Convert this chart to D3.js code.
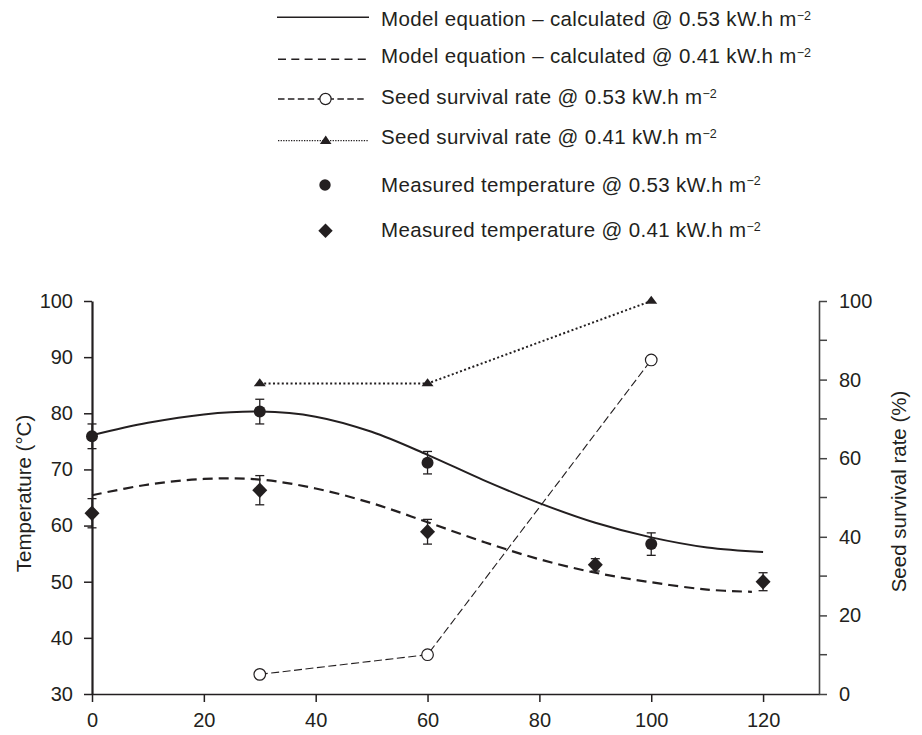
<!DOCTYPE html>
<html>
<head>
<meta charset="utf-8">
<script src="https://cdn.jsdelivr.net/npm/d3@7"></script>
<style>
  body { margin: 0; background: #fff; }
  text { font-family: "Liberation Sans", Arial, sans-serif; fill: #231f20; }
</style>
</head>
<body>
<script>
// model curves
const modelX53 = [0, 10, 20, 30, 40, 50, 60, 70, 80, 90, 100, 110, 120];
const model53 = [76.1, 78.3, 79.8, 80.3, 79.4, 76.7, 72.6, 68.1, 64.0, 60.5, 57.9, 56.1, 55.3];
const modelX41 = [0, 10, 20, 30, 40, 50, 60, 70, 80, 90, 100, 110, 118];
const model41 = [65.4, 67.3, 68.3, 68.2, 66.6, 64.0, 60.6, 57.1, 54.0, 51.6, 49.9, 48.6, 48.2];

// measured temperatures with error bars
const measX53 = [0, 30, 60, 100];
const meas53 = [75.9, 80.3, 71.2, 56.7];
const err53 = [2.2, 2.2, 2.0, 2.0];
const measX41 = [0, 30, 60, 90, 120];
const meas41 = [62.2, 66.3, 58.9, 53.0, 50.0];
const err41 = [2.6, 2.6, 2.2, 1.1, 1.6];

// seed survival (right axis)
const seedX = [30, 60, 100];
const seed53 = [5, 10, 85];
const seed41 = [79, 79, 100];

const xTicks = [0, 20, 40, 60, 80, 100, 120];
const yLeftTicks = [30, 40, 50, 60, 70, 80, 90, 100];
const yRightTicks = [0, 20, 40, 60, 80, 100];
const yRightMinor = [10, 30, 50, 70, 90];

const legendLabels = [
  "Model equation \u2013 calculated @ 0.53 kW.h m",
  "Model equation \u2013 calculated @ 0.41 kW.h m",
  "Seed survival rate @ 0.53 kW.h m",
  "Seed survival rate @ 0.41 kW.h m",
  "Measured temperature @ 0.53 kW.h m",
  "Measured temperature @ 0.41 kW.h m"
];

const width = 922;
const height = 735;
const ink = "#231f20";

const svg = d3.select("body").append("svg")
  .attr("width", width)
  .attr("height", height);

const x = d3.scaleLinear().domain([0, 130]).range([92, 819]);
const yL = d3.scaleLinear().domain([30, 100]).range([694, 301]);
const yR = d3.scaleLinear().domain([0, 100]).range([694, 301]);

// axes
const bottom = svg.append("g")
  .attr("transform", `translate(0,${yL(30)})`)
  .call(d3.axisBottom(x).tickValues(xTicks).tickSize(8).tickSizeOuter(0).tickPadding(11));
const left = svg.append("g")
  .attr("transform", `translate(${x(0)},0)`)
  .call(d3.axisLeft(yL).tickValues(yLeftTicks).tickSize(8).tickSizeOuter(0).tickPadding(11));
const right = svg.append("g")
  .attr("transform", `translate(${x(130)},0)`)
  .call(d3.axisRight(yR).tickValues(yRightTicks).tickSize(8).tickSizeOuter(0).tickPadding(12));
right.selectAll(".minor")
  .data(yRightMinor)
  .join("line")
  .attr("class", "minor")
  .attr("x1", 0).attr("x2", 8)
  .attr("y1", (d) => yR(d)).attr("y2", (d) => yR(d));

[bottom, left, right].forEach((g) => {
  g.selectAll("text").style("font-size", "20px").attr("fill", ink);
  g.selectAll("line").attr("stroke", ink).attr("stroke-width", 1.5);
  g.select(".domain").attr("stroke", ink).attr("stroke-width", 1.6);
});
left.select(".domain").attr("stroke-width", 2.2);
right.selectAll("line").attr("stroke", "#444");
right.select(".domain").attr("stroke", "#444");

// axis titles
svg.append("text")
  .attr("transform", `translate(23,${(yL(30) + yL(100)) / 2 - 4}) rotate(-90)`)
  .attr("text-anchor", "middle")
  .attr("dominant-baseline", "central")
  .style("font-size", "20.5px")
  .text("Temperature (\u00B0C)");
svg.append("text")
  .attr("transform", `translate(898,${(yR(0) + yR(100)) / 2 - 6}) rotate(-90)`)
  .attr("text-anchor", "middle")
  .attr("dominant-baseline", "central")
  .style("font-size", "20.5px")
  .text("Seed survival rate (%)");

const plot = svg.append("g");

// seed survival lines
const seedLine = d3.line().x((d) => x(d[0])).y((d) => yR(d[1]));
plot.append("path")
  .datum(d3.zip(seedX, seed41))
  .attr("d", seedLine)
  .attr("fill", "none").attr("stroke", ink)
  .attr("stroke-width", 2).attr("stroke-dasharray", "2,2.4");
plot.append("path")
  .datum(d3.zip(seedX, seed53))
  .attr("d", seedLine)
  .attr("fill", "none").attr("stroke", ink)
  .attr("stroke-width", 1.1).attr("stroke-dasharray", "8,3.5");

// model curves
const modelLine = d3.line().x((d) => x(d[0])).y((d) => yL(d[1])).curve(d3.curveCatmullRom);
plot.append("path")
  .datum(d3.zip(modelX53, model53))
  .attr("d", modelLine)
  .attr("fill", "none").attr("stroke", ink).attr("stroke-width", 2);
plot.append("path")
  .datum(d3.zip(modelX41, model41))
  .attr("d", modelLine)
  .attr("fill", "none").attr("stroke", ink)
  .attr("stroke-width", 2.2).attr("stroke-dasharray", "10,6");

// error bars
function errorBars(xs, ys, es) {
  const g = plot.append("g").attr("stroke", ink).attr("stroke-width", 1.3);
  const rows = d3.zip(xs, ys, es);
  g.selectAll(".v").data(rows).join("line")
    .attr("x1", (d) => x(d[0])).attr("x2", (d) => x(d[0]))
    .attr("y1", (d) => yL(d[1] - d[2])).attr("y2", (d) => yL(d[1] + d[2]));
  g.selectAll(".t").data(rows).join("line")
    .attr("x1", (d) => x(d[0]) - 4.5).attr("x2", (d) => x(d[0]) + 4.5)
    .attr("y1", (d) => yL(d[1] + d[2])).attr("y2", (d) => yL(d[1] + d[2]));
  g.selectAll(".b").data(rows).join("line")
    .attr("x1", (d) => x(d[0]) - 4.5).attr("x2", (d) => x(d[0]) + 4.5)
    .attr("y1", (d) => yL(d[1] - d[2])).attr("y2", (d) => yL(d[1] - d[2]));
}
errorBars(measX53, meas53, err53);
errorBars(measX41, meas41, err41);

const diamond = (w, h) => `M0,${-h}L${w},0L0,${h}L${-w},0Z`;
const triangle = "M0,-5.3L6,2.7L-6,2.7Z";

plot.selectAll(".m53").data(d3.zip(measX53, meas53)).join("circle")
  .attr("cx", (d) => x(d[0])).attr("cy", (d) => yL(d[1]))
  .attr("r", 6).attr("fill", ink);
plot.selectAll(".m41").data(d3.zip(measX41, meas41)).join("path")
  .attr("transform", (d) => `translate(${x(d[0])},${yL(d[1])})`)
  .attr("d", diamond(7.5, 7.8)).attr("fill", ink);
plot.selectAll(".s53").data(d3.zip(seedX, seed53)).join("circle")
  .attr("cx", (d) => x(d[0])).attr("cy", (d) => yR(d[1]))
  .attr("r", 5.8).attr("fill", "#fff").attr("stroke", ink).attr("stroke-width", 1.2);
plot.selectAll(".s41").data(d3.zip(seedX, seed41)).join("path")
  .attr("transform", (d) => `translate(${x(d[0])},${yR(d[1])})`)
  .attr("d", triangle).attr("fill", ink);

// legend
const legendY = [26, 63.3, 104.3, 144, 191.7, 237.3];
const symY = [17.3, 59.3, 99, 140.7, 185, 230.7];
const legend = svg.append("g");
legend.append("line").attr("x1", 277).attr("x2", 369).attr("y1", symY[0]).attr("y2", symY[0])
  .attr("stroke", ink).attr("stroke-width", 1.6);
legend.append("line").attr("x1", 278).attr("x2", 366).attr("y1", symY[1]).attr("y2", symY[1])
  .attr("stroke", ink).attr("stroke-width", 1.4).attr("stroke-dasharray", "8,5.3");
legend.append("line").attr("x1", 278).attr("x2", 367).attr("y1", symY[2]).attr("y2", symY[2])
  .attr("stroke", ink).attr("stroke-width", 1.3).attr("stroke-dasharray", "6.5,3.4");
legend.append("circle").attr("cx", 325.5).attr("cy", symY[2]).attr("r", 5.6)
  .attr("fill", "#fff").attr("stroke", ink).attr("stroke-width", 1.2);
legend.append("line").attr("x1", 278).attr("x2", 368).attr("y1", symY[3]).attr("y2", symY[3])
  .attr("stroke", ink).attr("stroke-width", 1.2).attr("stroke-dasharray", "1.3,1.3");
legend.append("path").attr("transform", `translate(325.7,${symY[3] - 0.5})`)
  .attr("d", "M0,-4.8L5.8,3.8L-5.8,3.8Z").attr("fill", ink);
legend.append("circle").attr("cx", 325).attr("cy", symY[4]).attr("r", 5.7).attr("fill", ink);
legend.append("path").attr("transform", `translate(325.5,${symY[5]})`)
  .attr("d", diamond(7.2, 7.2)).attr("fill", ink);

const labels = legend.selectAll(".lab").data(legendLabels).join("text")
  .attr("x", 381)
  .attr("y", (d, i) => legendY[i])
  .style("font-size", "20.5px")
  .style("letter-spacing", "0.35px")
  .text((d) => d);
labels.append("tspan")
  .attr("dy", -6.5)
  .style("font-size", "12.5px")
  .style("letter-spacing", "0px")
  .text("\u22122");
</script>
</body>
</html>
